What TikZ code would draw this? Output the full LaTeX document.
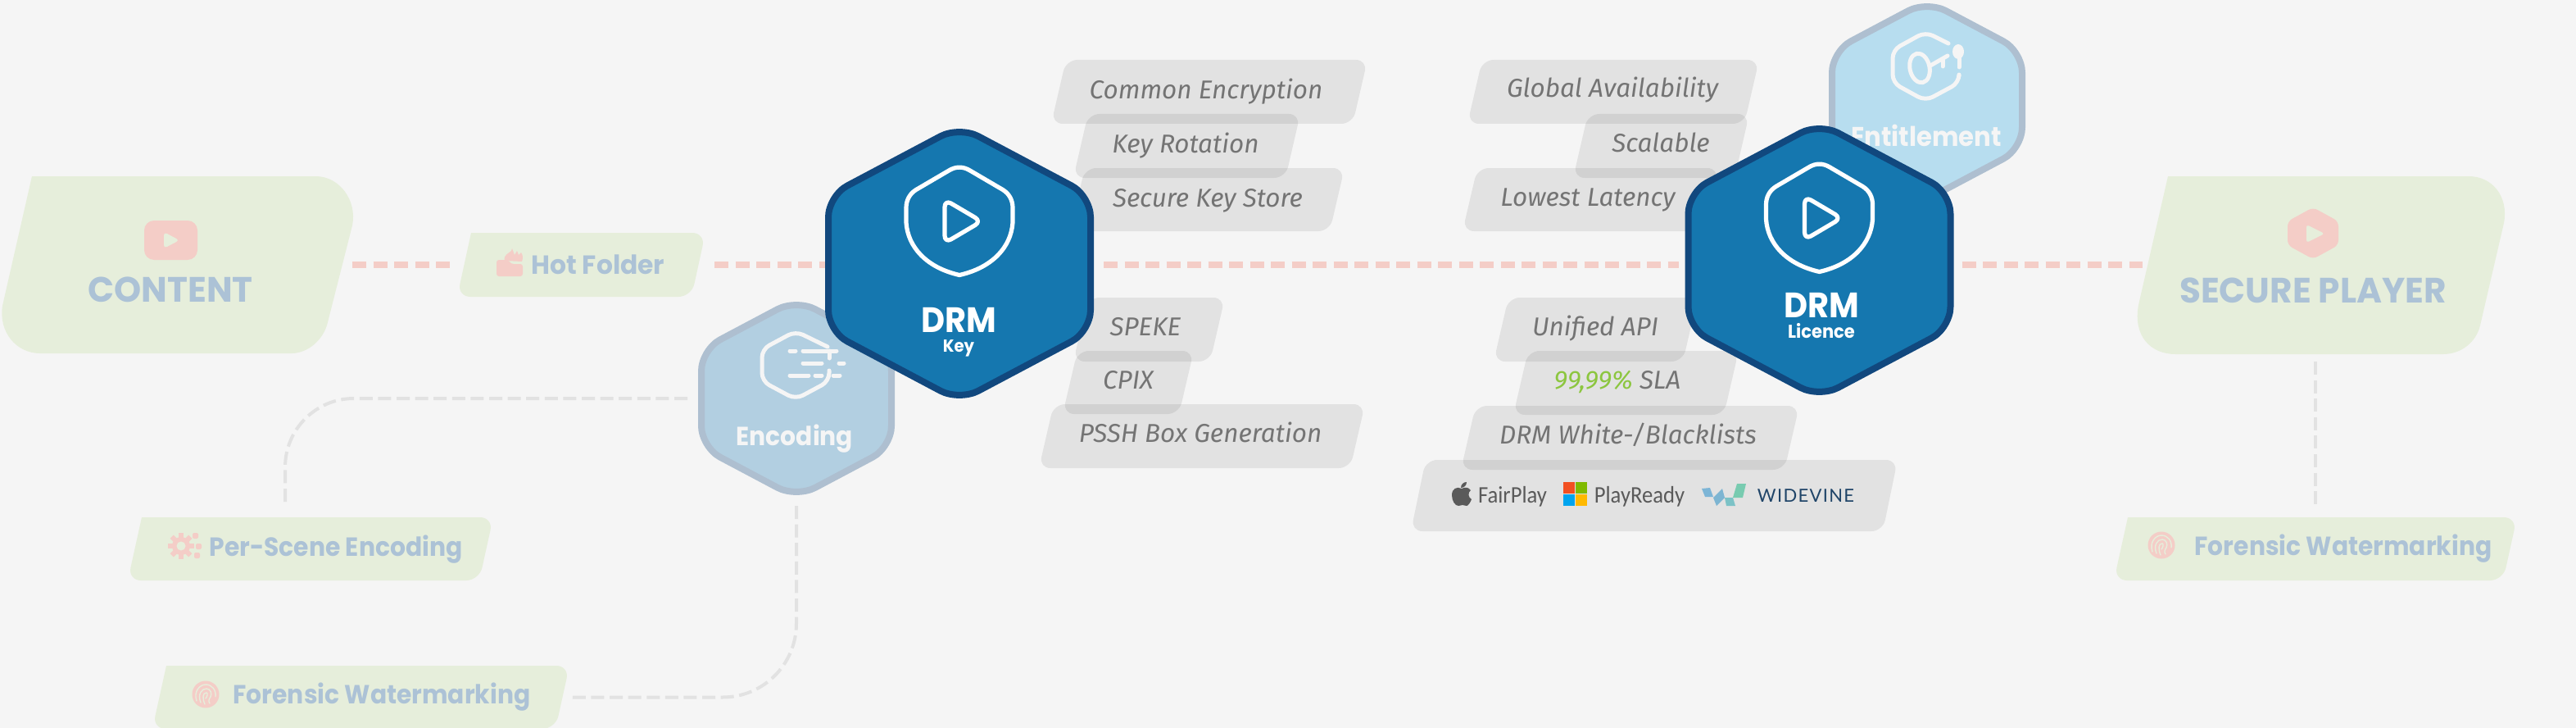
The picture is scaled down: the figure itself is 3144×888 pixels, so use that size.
\documentclass[tikz,border=0pt]{standalone}
\usepackage{fontspec}
\setmainfont{Poppins}
\newfontfamily\hdfont[FakeStretch=0.93]{Poppins}
\newfontfamily\hdbig[FakeStretch=0.98]{Poppins}
\newfontfamily\grayfont{Fira Sans}
\newfontfamily\logofont[FakeStretch=0.92]{Carlito}
\newfontfamily\widefont[LetterSpace=6]{Lato}
\definecolor{bgc}{HTML}{F5F5F5}
\definecolor{greenbox}{HTML}{E6EEDB}
\definecolor{pinkc}{HTML}{F4CDC7}
\definecolor{fadeblue}{HTML}{ACC2D6}
\definecolor{grayt}{HTML}{747474}
\definecolor{connc}{HTML}{E2E2E2}
\definecolor{drmfill}{HTML}{1577AF}
\definecolor{drmline}{HTML}{11487E}
\definecolor{fadeline}{HTML}{AEBFD0}
\definecolor{encfill}{HTML}{B2CFE1}
\definecolor{entfill}{HTML}{B7DDEF}
\definecolor{whitec}{HTML}{F5F5F5}
\definecolor{slagreen}{HTML}{8CC63F}
\definecolor{logogray}{HTML}{5A5A5A}
\definecolor{widec}{HTML}{1F4468}
\definecolor{msred}{HTML}{F25022}
\definecolor{msgreen}{HTML}{7FBA00}
\definecolor{msblue}{HTML}{00A4EF}
\definecolor{msyellow}{HTML}{FFB900}
\definecolor{wva}{HTML}{7DB5D6}
\definecolor{wvb}{HTML}{7DB5D2}
\definecolor{wvc}{HTML}{7CC2C6}
\definecolor{wvd}{HTML}{78CBB0}
\tikzset{
  anchorbox/.style={inner sep=0pt,outer sep=0pt},
  graybox/.style={fill=black,opacity=.075},
  greenfill/.style={fill=greenbox},
  mainline/.style={draw=pinkc,line width=4pt,dash pattern=on 8.5pt off 4.25pt},
  connline/.style={draw=connc,line width=2pt,dash pattern=on 8pt off 3.3pt},
  graytext/.style={anchor=base,inner sep=0pt,text=grayt,font=\grayfont\itshape\fontsize{15.75}{15.75}\selectfont},
  fadelabel/.style={anchor=base,inner sep=0pt,text=fadeblue,font=\hdfont\bfseries\fontsize{16}{16}\selectfont},
  hotstyle/.style={anchor=base,inner sep=0pt,text=fadeblue,font=\hdbig\bfseries\fontsize{16}{16}\selectfont},
  hexlabel/.style={anchor=base,inner sep=0pt,text=whitec,font=\hdfont\bfseries\fontsize{16}{16}\selectfont},
  entstyle/.style={anchor=base,inner sep=0pt,text=whitec,font=\hdfont\bfseries\fontsize{16.5}{16.5}\selectfont},
  bigfade/.style={anchor=base,inner sep=0pt,text=fadeblue,font=\hdbig\bfseries\fontsize{21.5}{21.5}\selectfont},
  drmstyle/.style={anchor=base,inner sep=0pt,text=white,font=\hdfont\bfseries\fontsize{21.5}{21.5}\selectfont},
  logotext/.style={anchor=base,inner sep=0pt,text=logogray,font=\logofont\fontsize{14.5}{14.5}\selectfont},
  iconline/.style={draw=white,line width=2.6pt,line cap=round,line join=round},
  fadeicon/.style={draw=whitec,line width=2.5pt,line cap=round,line join=round},
}
\newcommand{\graybar}[5]{%
  \path[graybox,rounded corners=7pt] ({#2+18},#3) -- (#4,#3) -- ({#4-18},#5) -- (#2,#5) -- cycle;
  \node[anchorbox,minimum width={(#4-#2)*0.5},minimum height={(#5-#3)*0.5}] (#1) at ({(#2+#4)/2},{(#3+#5)/2}) {};}
\newcommand{\greenbar}[5]{%
  \path[greenfill,rounded corners=8pt] ({#2+17},#3) -- (#4,#3) -- ({#4-17},#5) -- (#2,#5) -- ({#2+17},#3);
  \node[anchorbox,minimum width={(#4-#2)*0.5},minimum height={(#5-#3)*0.5}] (#1) at ({(#2+#4)/2},{(#3+#5)/2}) {};}
% cx, cy, half width, apex, shoulder, fill, line
\newcommand{\hexa}[7]{%
  \path[fill=#6,draw=#7,line width=4pt,rounded corners=13pt]
    (#1,{#2-#4}) -- ({#1+#3},{#2-#5}) -- ({#1+#3},{#2+#5}) -- (#1,{#2+#4}) -- ({#1-#3},{#2+#5}) -- ({#1-#3},{#2-#5}) -- cycle;}
\newcommand{\shieldicon}[2]{%
  \begin{scope}[shift={(#1,#2)}]
    \draw[iconline] (-12,-114) .. controls (-4,-118.5) and (4,-118.5) .. (12,-114) -- (53,-90)
      .. controls (61,-85) and (65,-77) .. (65,-68) -- (65,-50)
      .. controls (63,-20) and (40,5) .. (0,14)
      .. controls (-40,5) and (-63,-20) .. (-65,-50) -- (-65,-68)
      .. controls (-65,-77) and (-61,-85) .. (-53,-90) -- cycle;
    \draw[iconline,rounded corners=4.5pt] (-18,-78) -- (27,-51.5) -- (-18,-25) -- cycle;
  \end{scope}}
\newcommand{\fingerprint}[2]{%
  \fill[pinkc] (#1,#2) circle (16.5);
  \begin{scope}[shift={(#1,#2)}]
    \draw[draw=greenbox,line width=.7pt,line cap=round] (-11,8) .. controls (-15,-4) and (-7,-12) .. (0,-12) .. controls (8,-12) and (13,-5) .. (12,3);
    \draw[draw=greenbox,line width=.7pt,line cap=round] (-6,10) .. controls (-10,0) and (-5,-7) .. (1,-7) .. controls (6,-7) and (8,-1) .. (6,3) .. controls (4,6) and (3,8) .. (5,11);
    \draw[draw=greenbox,line width=.7pt,line cap=round] (-1,12) .. controls (-4,5) and (-4,-2) .. (1,-2) .. controls (3,-2) and (2,3) .. (0,5);
  \end{scope}}
\begin{document}
\begin{tikzpicture}[x=.5pt,y=-.5pt]
\useasboundingbox (0,0) rectangle (3144,888);
\fill[bgc] (0,0) rectangle (3144,888);

% ---- green boxes
\path[greenfill] (39,215) -- (385,215) .. controls (415,215) and (436,245) .. (430,275) -- (400,393)
  .. controls (395,415) and (375,431) .. (356,431) -- (49,431) .. controls (20,431) and (-2,405) .. (3,373) -- cycle;
\node[anchorbox,minimum width=214pt,minimum height=108pt] (content) at (216,323) {};
\path[greenfill] (2646,215) -- (3013,215) .. controls (3042,215) and (3062,240) .. (3056,272) -- (3027,397)
  .. controls (3022,418) and (3003,432) .. (2982,432) -- (2655,432) .. controls (2625,432) and (2603,410) .. (2610,372) -- cycle;
\node[anchorbox,minimum width=204pt,minimum height=108pt] (player) at (2826,323) {};
\greenbar{hot}{558}{284}{861}{362}
\greenbar{scene}{156}{631}{602}{708}
\greenbar{wml}{186}{812}{695}{889}
\greenbar{wmr}{2580}{631}{3072}{708}

% ---- green box contents
\fill[pinkc,rounded corners=6pt] (176,269) rectangle (241,317);
\fill[greenbox,rounded corners=2pt] (200,283) -- (219,293) -- (200,303) -- cycle;
\node[bigfade] (contentlabel) at (208,368) {CONTENT};
\fill[pinkc,rounded corners=1.5pt] (606,317) -- (620,317) -- (624,322) -- (638,322) -- (638,337) -- (606,337) -- cycle;
\fill[pinkc] (616,318) .. controls (614,311) and (621,309) .. (624,306) -- (625,303) -- (628,311) -- (631,306) -- (633,311) -- (636,308)
  .. controls (639,312) and (638,316) .. (637,319) -- cycle;
\node[hotstyle] (hotlabel) at (730,334) {Hot Folder};
\fill[pinkc,rounded corners=3pt] (2823,253) -- (2854,270) -- (2854,299) -- (2823,316) -- (2792,299) -- (2792,270) -- cycle;
\fill[greenbox,rounded corners=1.5pt] (2815,274) -- (2837,285) -- (2815,296) -- cycle;
\node[bigfade] (playerlabel) at (2823,369) {SECURE PLAYER};
% gear
\foreach \a in {0,45,...,315} {\draw[pinkc,line width=3pt] (221,666) -- ++(\a:16);}
\fill[pinkc] (221,666) circle (11);
\fill[greenbox] (221,666) circle (5.5);
\fill[pinkc,rounded corners=1pt] (235,650) rectangle (242,657);
\fill[pinkc,rounded corners=1pt] (239,663) rectangle (246,670);
\fill[pinkc,rounded corners=1pt] (237,674) rectangle (244,681);
\node[fadelabel] (scenelabel) at (410,678) {Per-Scene Encoding};
\fingerprint{251}{847}
\node[fadelabel] (wmllabel) at (466,858) {Forensic Watermarking};
\fingerprint{2638}{665}
\node[fadelabel] (wmrlabel) at (2860,677) {Forensic Watermarking};

% ---- gray boxes
\graybar{g1}{1283}{73}{1669}{151}
\graybar{g2}{1310}{139}{1587}{217}
\graybar{g3}{1306}{205}{1641}{282}
\graybar{g4}{1310}{363}{1495}{441}
\graybar{g5}{1297}{428}{1457}{505}
\graybar{g6}{1268}{493}{1666}{571}
\graybar{h1}{1791}{73}{2147}{151}
\graybar{h2}{1920}{139}{2135}{217}
\graybar{h3}{1785}{205}{2098}{282}
\graybar{h4}{1823}{363}{2072}{441}
\graybar{h5}{1847}{428}{2122}{506}
\graybar{h6}{1783}{495}{2196}{573}
\graybar{h7}{1722}{561}{2316}{648}

\node[graytext] (tg1) at (1472,120) {Common Encryption};
\node[graytext] (tg2) at (1447,186) {Key Rotation};
\node[graytext] (tg3) at (1474,252) {Secure Key Store};
\node[graytext] (tg4) at (1398,409) {SPEKE};
\node[graytext] (tg5) at (1377,474) {CPIX};
\node[graytext] (tg6) at (1465,539) {PSSH Box Generation};
\node[graytext] (th1) at (1968,119) {Global Availability};
\node[graytext] (th2) at (2027,185) {Scalable};
\node[graytext] (th3) at (1938,251) {Lowest Latency};
\node[graytext] (th4) at (1947,409) {Unified API};
\node[graytext] (th5) at (1974,474) {\textcolor{slagreen}{99,99\%} SLA};
\node[graytext] (th6) at (1987,541) {DRM White-/Blacklists};

% ---- logos
\fill[logogray] (1784,596) .. controls (1778,593) and (1772,596) .. (1772,604) .. controls (1772,611) and (1776,617) .. (1780,617)
  .. controls (1782,617) and (1783,616) .. (1785,616) .. controls (1787,616) and (1788,617) .. (1790,617)
  .. controls (1792,617) and (1795,612) .. (1796,609) .. controls (1792,607) and (1791,601) .. (1795,598)
  .. controls (1792,594) and (1788,594) .. (1784,596) -- cycle;
\fill[logogray] (1783,595) .. controls (1783,591) and (1786,588) .. (1790,588) .. controls (1790,592) and (1787,595) .. (1783,595) -- cycle;
\node[logotext] (fairplay) at (1846,613) {FairPlay};
\fill[msred] (1908,588) rectangle (1922,602);
\fill[msgreen] (1923,588) rectangle (1937,602);
\fill[msblue] (1908,603) rectangle (1922,617);
\fill[msyellow] (1923,603) rectangle (1937,617);
\node[logotext] (playready) at (2001,613) {PlayReady};
\fill[wva] (2077,596) -- (2087,595) -- (2091,606) -- (2081,606) -- cycle;
\fill[wvb] (2091,607) -- (2102,596) -- (2105,607) -- (2095,617) -- cycle;
\fill[wvc] (2105,607) -- (2115,607) -- (2118,617) -- (2107,617) -- cycle;
\fill[wvd] (2120,590) -- (2131,590) -- (2127,607) -- (2115,607) -- cycle;
\node[anchor=base,inner sep=0pt,text=widec,font=\widefont\fontsize{11}{11}\selectfont] (widevine) at (2204,612) {WIDEVINE};

% ---- hexagon anchors, then connectors under the hexagons
\node[anchorbox,minimum width=164pt,minimum height=170pt] (drmkey) at (1171,323) {};
\node[anchorbox,minimum width=164pt,minimum height=170pt] (drmlic) at (2220.5,323) {};
\node[anchorbox,minimum width=120pt,minimum height=120pt] (encoding) at (972,486) {};
\node[anchorbox,minimum width=120pt,minimum height=120pt] (entitlement) at (2352,122) {};
\coordinate (scenetop) at (348,631);

\draw[mainline,shorten >=4.5pt] (content.east) -- (hot.west);
\draw[mainline,shorten <=5.5pt] (hot.east) -- (drmkey.west);
\draw[mainline,shorten <=6pt,shorten >=4pt] (drmkey.east) -- (drmlic.west);
\draw[mainline,shorten <=5pt,shorten >=3.5pt] (drmlic.east) -- (player.west);
\draw[connline,shorten <=5pt,shorten >=7pt] (player.south) -- (wmr.north);
\draw[connline,rounded corners=42pt,shorten <=6.5pt,shorten >=7pt] (encoding.west) -| (scenetop);
\draw[connline,rounded corners=45pt,shorten <=5.5pt,shorten >=1pt] (encoding.south) |- (wml.east);

% ---- hexagons
\hexa{972}{486}{116}{121}{59.5}{encfill}{fadeline}
\draw[fadeicon,rounded corners=5pt] (1010,423) -- (971,404) -- (930,426) -- (930,465) -- (971,487) -- (1012,465) -- (1012,452);
\draw[fadeicon] (1012,428) -- (1012,437);
\draw[fadeicon] (964,428) -- (971,428) (980,428) -- (1021,428);
\draw[fadeicon] (980,443) -- (1003,443) (1024,443) -- (1030,443);
\draw[fadeicon] (964,458) -- (987,458) (995,458) -- (1003,458) (1017,458) -- (1025,458);
\node[hexlabel] (enclabel) at (970,543) {Encoding};

\hexa{2352}{122}{116}{121}{59.5}{entfill}{fadeline}
\draw[fadeicon,rounded corners=5pt] (2378,53) -- (2350,39) -- (2310,61) -- (2310,101) -- (2350,123) -- (2391,101) -- (2391,93);
\draw[fadeicon,rotate around={12:(2343,83)}] (2343,83) ellipse (12 and 18);
\draw[fadeicon] (2356,80) -- (2377,68);
\draw[fadeicon] (2371,73) -- (2371,81);
\fill[whitec] (2390,63) ellipse (7 and 9);
\draw[fadeicon] (2391,68) -- (2391,82);
\node[entstyle] (entlabel) at (2351,178) {Entitlement};

\hexa{1171}{321.5}{160}{167.5}{82.7}{drmfill}{drmline}
\shieldicon{1171}{321.5}
\node[drmstyle] (drmk) at (1170,405) {DRM};
\node[anchor=base,inner sep=0pt,text=white,font=\hdfont\bfseries\fontsize{10.6}{10.6}\selectfont] (keyl) at (1170,429) {Key};

\hexa{2220.5}{317.5}{160}{167.5}{82.7}{drmfill}{drmline}
\shieldicon{2220.5}{317.5}
\node[drmstyle] (drml) at (2223,387) {DRM};
\node[anchor=base,inner sep=0pt,text=white,font=\hdfont\bfseries\fontsize{11.3}{11.3}\selectfont] (licl) at (2223,412) {Licence};
\end{tikzpicture}
\end{document}
